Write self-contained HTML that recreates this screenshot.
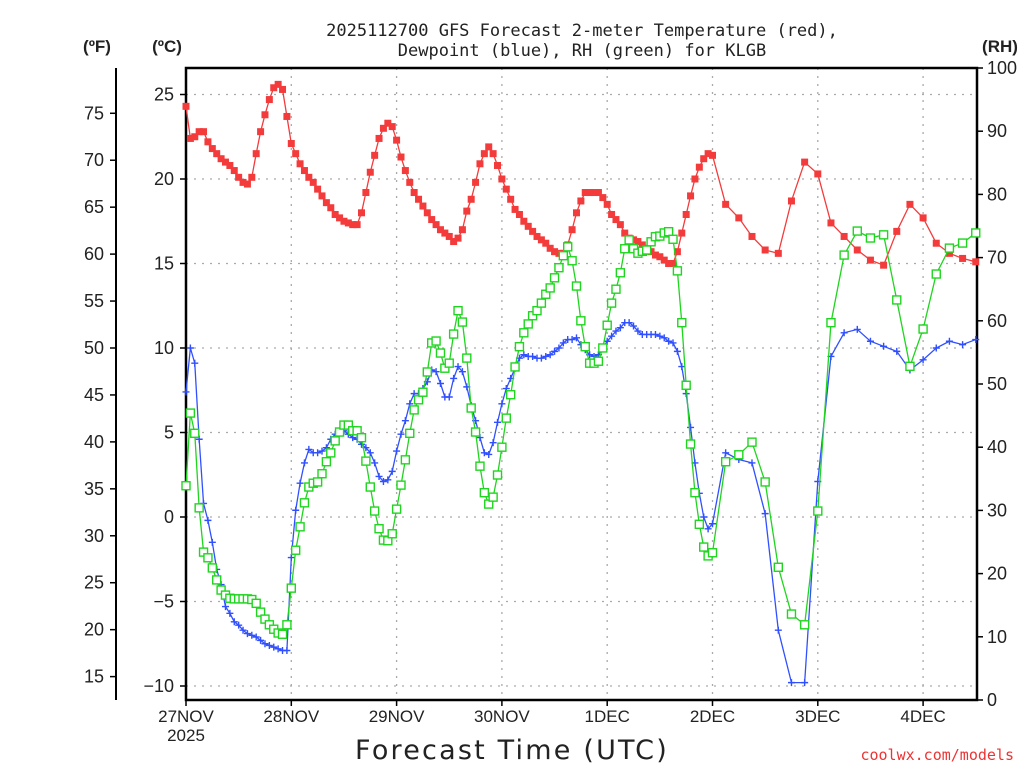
<!DOCTYPE html>
<html><head><meta charset="utf-8"><style>
html,body{margin:0;padding:0;background:#fff;}
svg{display:block;}
text{font-family:"Liberation Sans","DejaVu Sans",sans-serif;fill:#222;}
</style></head><body>
<svg id="chart" width="1024" height="768" viewBox="0 0 1024 768" xmlns="http://www.w3.org/2000/svg">
<g>
<text x="582" y="36" text-anchor="middle" font-size="17" style="font-family:'DejaVu Sans Mono','Liberation Mono',monospace">2025112700 GFS Forecast 2-meter Temperature (red),</text>
<text x="582" y="56" text-anchor="middle" font-size="17" style="font-family:'DejaVu Sans Mono','Liberation Mono',monospace">Dewpoint (blue), RH (green) for KLGB</text>
</g>
<text x="97" y="52" text-anchor="middle" font-size="17" font-weight="bold">(ºF)</text>
<text x="167" y="52" text-anchor="middle" font-size="17" font-weight="bold">(ºC)</text>
<text x="1000" y="52" text-anchor="middle" font-size="17" font-weight="bold">(RH)</text>
<text x="512" y="759" text-anchor="middle" font-size="27" style="font-family:'DejaVu Sans','Liberation Sans',sans-serif;letter-spacing:2.2px">Forecast Time (UTC)</text>
<text x="1014" y="760" text-anchor="end" font-size="15" style="font-family:'DejaVu Sans Mono','Liberation Mono',monospace;fill:#ee3333">coolwx.com/models</text>
<g id="grid"></g>
<g id="axes"></g>
<g id="series"></g>
</svg>
<script>
// hourly 0..120, then 3-hourly 123..180
const hoursHourly = Array.from({length:121},(_,i)=>i);
const hours3h = [123,126,129,132,135,138,141,144,147,150,153,156,159,162,165,168,171,174,177,180];
const tempC = [24.3,22.4,22.5,22.8,22.8,22.2,21.8,21.5,21.2,21.0,20.8,20.5,20.1,19.8,19.7,20.1,21.5,22.8,23.8,24.7,25.4,25.6,25.3,23.7,
22.1,21.5,20.9,20.5,20.1,19.8,19.4,19.0,18.6,18.3,17.9,17.7,17.5,17.4,17.3,17.3,18.0,19.2,20.4,21.4,22.4,23.0,23.3,23.1,
22.3,21.3,20.5,19.8,19.2,18.8,18.4,18.0,17.6,17.3,17.0,16.8,16.6,16.3,16.5,17.0,18.1,18.8,19.8,20.9,21.5,21.9,21.5,20.8,
20.0,19.4,18.8,18.2,17.9,17.5,17.2,16.9,16.6,16.4,16.2,15.9,15.7,15.6,15.6,16.1,17.0,18.0,18.7,19.2,19.2,19.2,19.2,18.9,
18.5,17.9,17.6,17.3,16.8,16.5,16.4,16.3,16.1,15.9,15.7,15.5,15.4,15.2,15.0,15.0,15.7,16.8,17.9,19.0,20.0,20.7,21.2,21.5,21.4,
18.5,17.7,16.6,15.8,15.6,18.7,21.0,20.3,17.4,16.6,15.8,15.2,14.9,16.9,18.5,17.7,16.2,15.6,15.3,15.1];
const dewC = [7.4,10.0,9.1,4.6,0.8,-0.2,-1.5,-3.1,-4.0,-5.3,-5.7,-6.2,-6.4,-6.7,-6.9,-7.0,-7.1,-7.3,-7.5,-7.6,-7.7,-7.8,-7.9,-7.9,
-2.4,0.4,2.0,3.2,4.0,3.8,3.8,3.9,4.1,4.6,4.9,5.0,5.1,4.9,4.7,4.6,4.3,4.1,3.8,3.2,2.4,2.1,2.2,2.7,
3.9,4.9,5.7,6.7,7.3,7.3,7.6,8.0,8.7,8.6,7.9,7.1,7.1,8.2,8.9,8.6,7.7,6.6,5.7,4.7,3.8,3.7,4.4,5.6,
6.7,7.6,8.2,8.8,9.4,9.6,9.5,9.5,9.4,9.4,9.5,9.6,9.8,10.0,10.3,10.5,10.5,10.6,10.2,9.9,9.6,9.5,9.6,10.0,
10.4,10.7,11.0,11.2,11.5,11.5,11.3,11.0,10.8,10.8,10.8,10.8,10.7,10.6,10.4,10.3,9.8,8.9,7.3,5.3,3.2,1.4,0.0,-0.7,-0.4,
3.8,3.4,3.2,0.2,-6.7,-9.8,-9.8,2.1,9.5,10.9,11.1,10.4,10.1,9.8,8.7,9.3,10.0,10.4,10.2,10.5];
const rhPct = [33.9,45.4,42.2,30.4,23.4,22.5,20.9,19.0,17.4,16.6,16.1,16.0,16.0,16.0,16.0,15.9,15.3,13.9,12.8,11.9,11.2,10.6,10.4,11.9,
17.7,23.7,27.4,31.2,33.7,34.3,34.5,35.8,37.7,39.1,41.0,42.4,43.5,43.5,42.6,42.6,41.5,37.8,33.7,29.9,27.1,25.3,25.2,26.3,
30.2,34.0,38.0,42.2,45.9,47.5,48.7,51.9,56.5,56.8,54.9,52.5,53.3,57.9,61.6,59.8,54.1,46.2,42.4,37.0,32.8,31.0,32.1,35.6,
40.0,44.6,48.3,52.7,55.9,58.1,59.5,60.8,61.6,62.8,64.2,65.2,66.8,68.4,70.3,71.7,69.5,65.5,60.0,55.9,53.3,53.3,53.6,55.7,
59.3,62.8,65.0,67.6,71.4,72.8,71.4,70.7,71.0,71.2,72.5,73.3,73.4,73.9,74.1,72.9,67.9,59.7,49.8,40.5,32.8,27.8,24.2,22.8,23.3,
37.7,38.8,40.8,34.5,21.0,13.6,11.9,29.9,59.7,70.4,74.2,73.1,73.6,63.3,52.8,58.7,67.4,71.5,72.3,73.9];
const dayLabels = ["27NOV","28NOV","29NOV","30NOV","1DEC","2DEC","3DEC","4DEC"];
const cTicks = [25,20,15,10,5,0,-5,-10];
const fTicks = [75,70,65,60,55,50,45,40,35,30,25,20,15];
const rhTicks = [100,90,80,70,60,50,40,30,20,10,0];

const NS="http://www.w3.org/2000/svg";
const L=186,R=977,T=68,B=700;
const pxPerHour=105.3/24;
const xS=h=>L+h*pxPerHour;
const yC=c=>517-c*16.9;
const yF=f=>yC((f-32)*5/9);
const yRH=r=>B-r*(B-T)/100;
const hours=hoursHourly.concat(hours3h);
function mk(tag,attrs,parent){const e=document.createElementNS(NS,tag);for(const k in attrs)e.setAttribute(k,attrs[k]);parent.appendChild(e);return e;}
const grid=document.getElementById('grid'),axes=document.getElementById('axes'),series=document.getElementById('series');

cTicks.forEach(c=>{const l=mk('line',{x1:L,x2:R,y1:yC(c),y2:yC(c),stroke:'#aaa','stroke-width':1.3,'stroke-dasharray':'2,6'},grid);

});
dayLabels.forEach((d,i)=>{const x=xS(i*24);
if(i>0){const l=mk('line',{x1:x,x2:x,y1:T,y2:B,stroke:'#aaa','stroke-width':1.3,'stroke-dasharray':'2,6'},grid);

}
mk('line',{x1:x,x2:x,y1:B,y2:B+6,stroke:'#000','stroke-width':1.5},axes);
const t=mk('text',{x:x,y:722,'text-anchor':'middle','font-size':17},axes);t.textContent=d;

});
const yr=mk('text',{x:L,y:741,'text-anchor':'middle','font-size':17},axes);yr.textContent='2025';



mk('rect',{x:L,y:T,width:R-L,height:B-T,fill:'none',stroke:'#000','stroke-width':2.5},axes);
mk('line',{x1:116,x2:116,y1:T,y2:B,stroke:'#000','stroke-width':2},axes);
cTicks.forEach(c=>{const y=yC(c);mk('line',{x1:L-6,x2:L,y1:y,y2:y,stroke:'#000','stroke-width':1.5},axes);
const t=mk('text',{x:174,y:y+6,'text-anchor':'end','font-size':18},axes);t.textContent=c<0?'\u2212'+(-c):c;

});
fTicks.forEach(f=>{const y=yF(f);mk('line',{x1:110,x2:116,y1:y,y2:y,stroke:'#000','stroke-width':1.5},axes);
const t=mk('text',{x:104,y:y+6,'text-anchor':'end','font-size':18},axes);t.textContent=f;

});
rhTicks.forEach(r=>{const y=yRH(r);mk('line',{x1:R,x2:R+6,y1:y,y2:y,stroke:'#000','stroke-width':1.5},axes);
const t=mk('text',{x:987,y:y+6,'text-anchor':'start','font-size':18},axes);t.textContent=r;

});

function drawSeries(vals,yf,color,kind,name){
const g=mk('g',{},series);


const pts=vals.map((v,i)=>[xS(hours[i]),yf(v)]);
mk('polyline',{points:pts.map(p=>p.join(',')).join(' '),fill:'none',stroke:color,'stroke-width':1.3},g);
pts.forEach(p=>{let m;
if(kind==='fill')m=mk('rect',{x:p[0]-3.5,y:p[1]-3.5,width:7,height:7,fill:color},g);
else if(kind==='open')m=mk('rect',{x:p[0]-4,y:p[1]-4,width:8,height:8,fill:'#fff',stroke:color,'stroke-width':1.4},g);
else m=mk('path',{d:`M${p[0]-3.5},${p[1]}h7M${p[0]},${p[1]-3.5}v7`,stroke:color,'stroke-width':1.4},g);

});}
drawSeries(tempC,yC,'#f43b3b','fill','temperature-series');
drawSeries(dewC,yC,'#3050ff','plus','dewpoint-series');
drawSeries(rhPct,yRH,'#1fd51f','open','rh-series');
</script>
</body></html>
